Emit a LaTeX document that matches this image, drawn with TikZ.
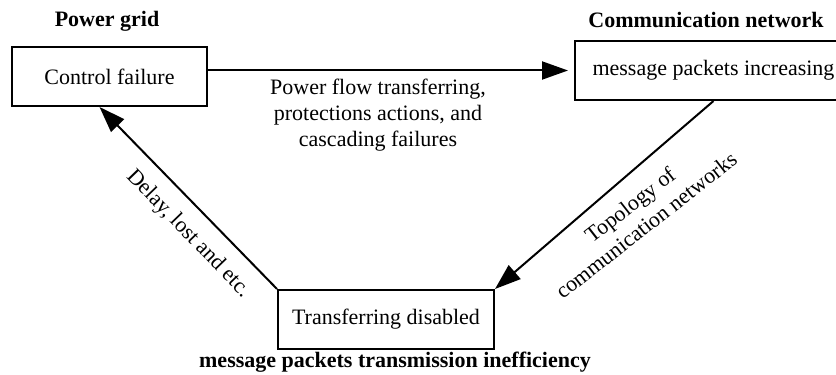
\documentclass[tikz,border=0pt]{standalone}
\usepackage{fontspec}
\setmainfont{Liberation Serif}
\usetikzlibrary{arrows.meta}

\begin{document}
\begin{tikzpicture}[x=0.5pt, y=0.5pt,
    every node/.style={font=\fontsize{11}{13}\selectfont},
    box/.style={draw, line width=1pt, minimum height=29.5pt, inner sep=0pt},
    title/.style={font=\fontsize{11}{13}\selectfont\bfseries},
    link/.style={line width=1pt, -{Triangle[length=13pt, width=9pt]}}]
    \useasboundingbox (0, 0) rectangle (836, 375);

    \begin{scope}
        \node[title] (gridtitle) at (107, 354) {Power grid};
        \node[box, minimum width=97.5pt] (grid) at (109.5, 298.5) {Control failure};
    \end{scope}

    \begin{scope}
        \node[title] (commtitle) at (706, 355) {Communication network};
        \node[box, minimum width=138.5pt] (comm) at (713.5, 304.5) {message packets increasing};
    \end{scope}

    \begin{scope}
        \node[box, minimum width=108pt] (trans) at (386, 55.5) {Transferring disabled};
        \node[title] (transtitle) at (395, 13) {message packets transmission inefficiency};
    \end{scope}

    \draw[link] (grid.east |- comm.west) -- ([xshift=-3pt]comm.west);
    \draw[link] (comm.south) -- (trans.north east);
    \draw[link] (trans.north west) -- ([xshift=-5pt]grid.south);

    \node[align=center] (flow) at (378, 260) {Power flow transferring,\\protections actions, and\\cascading failures};
    \node[align=center, rotate=38] (topo) at (638, 160) {Topology of\\communication networks};
    \node[rotate=-46] (delay) at (188, 141) {Delay, lost and etc.};
\end{tikzpicture}
\end{document}
